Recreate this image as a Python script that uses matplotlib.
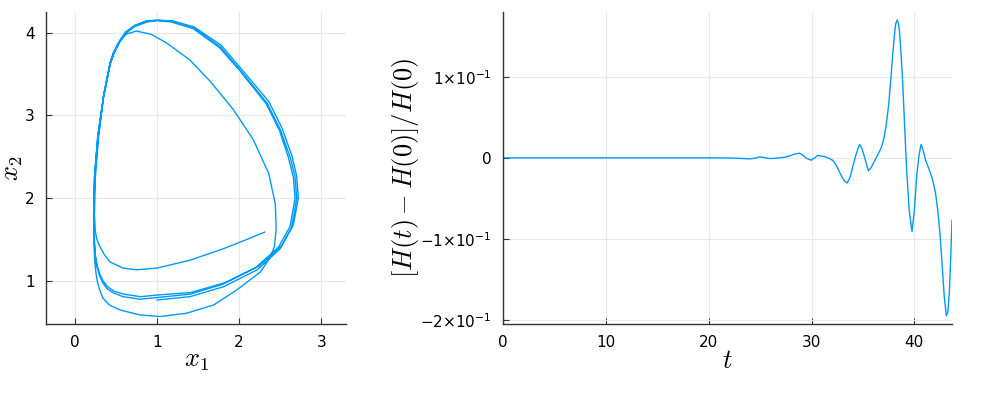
import matplotlib
matplotlib.use("Agg")
import matplotlib.pyplot as plt

# phase-space trajectory (x1, x2)
x1 = [1.00, 1.40, 1.81, 2.22, 2.50, 2.64, 2.70, 2.68, 2.62, 2.50, 2.34, 2.01, 1.77, 1.44, 1.18, 1.00, 0.88, 0.73, 0.62, 0.55, 0.47, 0.43, 0.35, 0.285, 0.244, 0.23, 0.24, 0.25, 0.27, 0.30, 0.34, 0.39, 0.47, 0.59, 0.80,
      1.00, 1.40, 1.80, 2.20, 2.48, 2.62, 2.68, 2.66, 2.60, 2.49, 2.33, 2.01, 1.76, 1.44, 1.17, 1.00, 0.88, 0.72, 0.62, 0.55, 0.47, 0.43, 0.35, 0.28, 0.24, 0.23, 0.24, 0.25, 0.275, 0.305, 0.345, 0.40, 0.48, 0.60, 0.80,
      1.00, 1.41, 1.83, 2.24, 2.52, 2.66, 2.72, 2.70, 2.64, 2.52, 2.36, 2.02, 1.78, 1.45, 1.18, 1.00, 0.88, 0.73, 0.62, 0.55, 0.47, 0.43, 0.35, 0.28, 0.24, 0.23, 0.235, 0.245, 0.26, 0.28, 0.31, 0.345,
      0.42, 0.55, 0.79, 1.04, 1.36, 1.69, 1.97, 2.26, 2.38, 2.43, 2.45, 2.44, 2.36, 2.17, 1.93, 1.65, 1.40, 1.12, 0.93, 0.75, 0.62, 0.52, 0.43, 0.35, 0.29, 0.25, 0.24, 0.25, 0.27, 0.305,
      0.36, 0.427, 0.59, 0.75, 0.996, 1.40, 1.81, 2.09, 2.31]
x2 = [0.77, 0.81, 0.93, 1.135, 1.39, 1.65, 2.0, 2.26, 2.50, 2.83, 3.15, 3.55, 3.83, 4.06, 4.14, 4.15, 4.14, 4.08, 4.0, 3.90, 3.75, 3.63, 3.23, 2.75, 2.26, 1.78, 1.45, 1.30, 1.17, 1.07, 0.98, 0.91, 0.855, 0.81, 0.78,
      0.80, 0.84, 0.96, 1.16, 1.41, 1.66, 2.0, 2.25, 2.49, 2.82, 3.14, 3.54, 3.82, 4.05, 4.13, 4.145, 4.13, 4.07, 3.99, 3.89, 3.74, 3.62, 3.22, 2.74, 2.25, 1.78, 1.46, 1.31, 1.18, 1.08, 1.0, 0.93, 0.875, 0.84, 0.81,
      0.83, 0.86, 0.98, 1.18, 1.43, 1.68, 2.0, 2.27, 2.52, 2.85, 3.17, 3.57, 3.85, 4.07, 4.145, 4.15, 4.145, 4.09, 4.01, 3.91, 3.76, 3.64, 3.24, 2.76, 2.26, 1.78, 1.40, 1.22, 1.08, 0.97, 0.87, 0.79,
      0.71, 0.65, 0.59, 0.57, 0.61, 0.71, 0.89, 1.11, 1.29, 1.42, 1.62, 1.93, 2.30, 2.71, 3.07, 3.41, 3.67, 3.875, 3.98, 4.02, 3.98, 3.86, 3.62, 3.22, 2.74, 2.25, 1.80, 1.60, 1.50, 1.416,
      1.32, 1.23, 1.155, 1.135, 1.155, 1.25, 1.39, 1.50, 1.59]

# relative energy error over time
t = [0, 5, 10, 15, 20, 21.4, 22.5, 23.3, 24.0, 24.5, 24.95, 25.4, 25.9, 26.5, 27.2, 27.8, 28.3, 28.83, 29.1, 29.48, 29.97, 30.3, 30.61, 31.26, 31.7, 32.1, 32.4, 32.7,
     33.1, 33.46, 33.75, 34.0, 34.35, 34.66, 34.9, 35.14, 35.53, 35.8, 36.1, 36.45, 36.76, 37.0, 37.24, 37.5, 37.73, 37.9, 38.05, 38.18, 38.31, 38.43, 38.54, 38.7,
     38.87, 39.05, 39.25, 39.5, 39.77, 40.0, 40.22, 40.45, 40.65, 40.85, 41.07, 41.4, 41.78, 42.05, 42.27, 42.5, 42.69, 42.9, 43.11, 43.25, 43.4, 43.53, 43.66]
dH = [0, 0, 0, 0, 0, 0, -0.0003, -0.0008, -0.0012, -0.0005, 0.0012, 0.0005, -0.0008, -0.0005, 0.0004, 0.002, 0.0045, 0.0058, 0.004, -0.0004, -0.0028, 0.0, 0.0029, 0.0016, -0.0005, -0.0033, -0.009, -0.017,
      -0.027, -0.031, -0.024, -0.011, 0.005, 0.0165, 0.012, 0.0016, -0.016, -0.012, -0.0045, 0.004, 0.0119, 0.022, 0.0387, 0.065, 0.1004, 0.128, 0.150, 0.165, 0.170, 0.167, 0.158, 0.13,
      0.0922, 0.04, -0.0148, -0.065, -0.091, -0.065, -0.023, 0.003, 0.0165, 0.01, -0.002, -0.013, -0.027, -0.043, -0.064, -0.095, -0.13, -0.17, -0.195, -0.19, -0.167, -0.125, -0.077]

blue = "#009AFA"

fig = plt.figure(figsize=(10, 4), dpi=100)
ax1 = fig.add_axes([0.046, 0.19, 0.300, 0.78])
ax2 = fig.add_axes([0.503, 0.19, 0.449, 0.78])

ax1.plot(x1, x2, color=blue, lw=1.0)
ax1.set_xlim(-0.35, 3.3)
ax1.set_ylim(0.48, 4.25)
ax1.set_xticks([0, 1, 2, 3])
ax1.set_yticks([1, 2, 3, 4])

ax2.plot(t, dH, color=blue, lw=1.0)
ax2.set_xlim(0, 43.66)
ax2.set_ylim(-0.205, 0.18)
ax2.set_xticks([0, 10, 20, 30, 40])
ax2.set_yticks([-0.2, -0.1, 0, 0.1])
ax2.set_yticklabels(["\u22122\u00d710$^{-1}$", "\u22121\u00d710$^{-1}$", "0", "1\u00d710$^{-1}$"])

for ax in (ax1, ax2):
    for s in ("top", "right"):
        ax.spines[s].set_visible(False)
    for s in ("left", "bottom"):
        ax.spines[s].set_color("#333333")
        ax.spines[s].set_linewidth(1.0)
    ax.grid(True, color="#e8e8e8", lw=0.8)
    ax.set_axisbelow(True)
    ax.tick_params(direction="in", length=4, width=0.8, color="#333333",
                   labelsize=11, pad=8)

ax1.set_xlabel("$x_1$", fontsize=19, math_fontfamily="cm", va="center", ha="center")
ax1.set_ylabel("$x_2$", fontsize=19, math_fontfamily="cm", va="center", ha="center")
ax1.xaxis.set_label_coords(0.5, -0.115)
ax1.yaxis.set_label_coords(-0.113, 0.5)

ax2.set_xlabel("$t$", fontsize=19, math_fontfamily="cm", va="center", ha="center")
ax2.set_ylabel("$[H(t) - H(0)]/H(0)$", fontsize=19, math_fontfamily="cm", va="center", ha="center")
ax2.xaxis.set_label_coords(0.5, -0.12)
ax2.yaxis.set_label_coords(-0.218, 0.5)

fig.savefig("out.png", dpi=100)
